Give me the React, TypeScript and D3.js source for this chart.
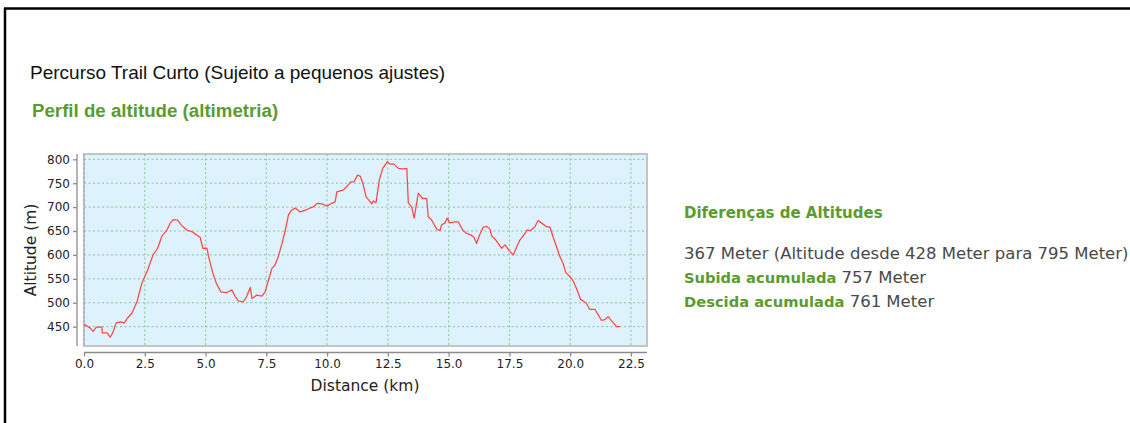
import React, { useEffect, useRef } from 'react';
import * as d3 from 'd3';

// elevation profile
const distanceKm = [
  0.0, 0.26, 0.37, 0.51, 0.74, 0.75, 0.95, 1.08, 1.18, 1.32, 1.49, 1.66, 1.77, 1.97, 2.18, 2.38,
  2.59, 2.84, 3.03, 3.21, 3.41, 3.55, 3.68, 3.85, 4.03, 4.23, 4.44, 4.62, 4.78, 4.89, 5.06, 5.12,
  5.19, 5.3, 5.44, 5.63, 5.81, 5.94, 6.08, 6.22, 6.35, 6.54, 6.67, 6.84, 6.91, 7.11, 7.32, 7.45,
  7.59, 7.73, 7.86, 8.0, 8.14, 8.27, 8.41, 8.55, 8.69, 8.89, 9.17, 9.44, 9.6, 9.78, 9.99, 10.19,
  10.33, 10.4, 10.67, 10.83, 10.97, 11.11, 11.25, 11.36, 11.47, 11.6, 11.74, 11.84, 11.9, 12.01,
  12.15, 12.29, 12.48, 12.59, 12.75, 12.93, 13.14, 13.28, 13.34, 13.48, 13.58, 13.66, 13.75,
  13.93, 14.1, 14.16, 14.3, 14.51, 14.64, 14.71, 14.85, 14.94, 15.05, 15.26, 15.4, 15.58, 15.74,
  15.91, 16.04, 16.15, 16.26, 16.42, 16.56, 16.7, 16.77, 16.91, 17.04, 17.18, 17.32, 17.49, 17.66,
  17.8, 17.93, 18.1, 18.23, 18.37, 18.55, 18.68, 18.87, 19.03, 19.17, 19.3, 19.44, 19.58, 19.71,
  19.82, 19.96, 20.1, 20.26, 20.43, 20.65, 20.81, 21.02, 21.16, 21.29, 21.43, 21.56, 21.74, 21.91,
  22.05,
];
const altitudeM = [
  455, 447, 440, 449, 449, 437, 437, 428, 437, 458, 460, 458, 467, 478, 502, 541,
  565, 600, 614, 640, 652, 667, 674, 673, 661, 652, 649, 642, 637, 614, 614, 598,
  584, 562, 541, 523, 521, 523, 527, 513, 504, 502, 511, 532, 509, 516, 514, 523,
  548, 572, 579, 598, 623, 649, 684, 694, 698, 690, 695, 701, 708, 707, 702, 708,
  711, 732, 736, 744, 753, 753, 767, 765, 750, 722, 713, 707, 713, 709,
  757, 781, 795, 790, 790, 781, 780, 781, 709, 700, 677, 701, 729,
  718, 718, 680, 673, 654, 651, 663, 667, 677, 667, 669, 669, 652, 645,
  642, 637, 624, 640, 658, 660, 654, 640, 633, 624, 614, 621, 609, 600,
  617, 631, 642, 652, 651, 659, 672, 665, 659, 658, 637, 617, 596, 582,
  563, 556, 548, 530, 507, 500, 486, 486, 474, 463, 465, 471, 460, 450,
  450,
];
const xTicks = [0, 2.5, 5, 7.5, 10, 12.5, 15, 17.5, 20, 22.5];
const yTicks = [450, 500, 550, 600, 650, 700, 750, 800];

const GREEN = '#5b9b2f';
const TEXT_GRAY = '#484848';
const FONT = "'DejaVu Sans', Verdana, sans-serif";
const HEAD_FONT = "'Liberation Sans', Arial, sans-serif";

const App: React.FC = () => {
  const svgRef = useRef<SVGSVGElement>(null);

  useEffect(() => {
    if (!svgRef.current) return;
    const svg = d3.select(svgRef.current);
    svg.selectAll('*').remove();

    const plot = { left: 84, right: 647, top: 154, bottom: 346 };

    const x = d3.scaleLinear().domain([0, 23.16]).range([plot.left, plot.right]);
    const y = d3.scaleLinear().domain([409.6, 811.1]).range([plot.bottom, plot.top]);

    // page frame
    svg.append('line').attr('x1', 4).attr('x2', 1130).attr('y1', 8.5).attr('y2', 8.5)
      .attr('stroke', '#000').attr('stroke-width', 2.5);
    svg.append('line').attr('x1', 5).attr('x2', 5).attr('y1', 8).attr('y2', 423)
      .attr('stroke', '#000').attr('stroke-width', 2.5);

    // headings
    svg.append('text').attr('x', 30).attr('y', 79).text('Percurso Trail Curto (Sujeito a pequenos ajustes)')
      .style('font-family', HEAD_FONT).style('font-size', '19px').attr('fill', '#111');
    svg.append('text').attr('x', 32).attr('y', 117).text('Perfil de altitude (altimetria)')
      .style('font-family', HEAD_FONT).style('font-size', '18.7px').style('font-weight', 'bold')
      .attr('fill', GREEN);

    // plot area
    svg.append('rect')
      .attr('x', plot.left).attr('y', plot.top)
      .attr('width', plot.right - plot.left).attr('height', plot.bottom - plot.top)
      .attr('fill', '#ddf2fc').attr('stroke', '#c4c4c4').attr('stroke-width', 2);

    const grid = svg.append('g');
    grid.selectAll('line.gy').data(yTicks).join('line').attr('class', 'gy')
      .attr('x1', plot.left).attr('x2', plot.right)
      .attr('y1', (d) => y(d)).attr('y2', (d) => y(d))
      .attr('stroke', '#86c592').attr('stroke-dasharray', '2,2.5');
    grid.selectAll('line.gx').data(xTicks).join('line').attr('class', 'gx')
      .attr('x1', (d) => x(d)).attr('x2', (d) => x(d))
      .attr('y1', plot.top).attr('y2', plot.bottom)
      .attr('stroke', (d) => (d === 0 ? '#8a9ccc' : '#86c592'))
      .attr('stroke-dasharray', '2,2.5');

    // profile
    const pts = distanceKm.map((d, i) => [d, altitudeM[i]] as [number, number]);
    const line = d3.line<[number, number]>().x((d) => x(d[0])).y((d) => y(d[1]));
    svg.append('path').datum(pts).attr('d', line)
      .attr('fill', 'none').attr('stroke', '#ff4a4a').attr('stroke-width', 1.3)
      .attr('stroke-linejoin', 'round');

    // y axis (offset spine)
    const yAxis = svg.append('g').attr('transform', 'translate(77,0)')
      .call(d3.axisLeft(y).tickValues(yTicks).tickSize(4).tickPadding(3).tickFormat(d3.format('d')));
    yAxis.select('.domain').attr('d', `M0,${plot.top}V${plot.bottom}`);

    // x axis (offset spine)
    const xAxis = svg.append('g').attr('transform', 'translate(0,352.5)')
      .call(d3.axisBottom(x).tickValues(xTicks).tickSize(4).tickPadding(3).tickFormat(d3.format('.1f')));
    xAxis.select('.domain').attr('d', `M${plot.left},0H${plot.right}`);

    svg.selectAll('.domain, .tick line').attr('stroke', '#8c8c8c').attr('stroke-width', 1.3);
    svg.selectAll('.tick text').style('font-family', FONT).style('font-size', '12px').attr('fill', '#222');

    svg.append('text').attr('transform', 'translate(36,250) rotate(-90)')
      .attr('text-anchor', 'middle').text('Altitude (m)')
      .style('font-family', FONT).style('font-size', '15.5px').attr('fill', '#222');
    svg.append('text').attr('x', 365).attr('y', 391)
      .attr('text-anchor', 'middle').text('Distance (km)')
      .style('font-family', FONT).style('font-size', '15.5px').attr('fill', '#222');

    // summary block
    const info = svg.append('g').style('font-family', FONT).style('font-size', '16.5px');
    info.append('text').attr('x', 684).attr('y', 218).text('Diferenças de Altitudes')
      .style('font-weight', 'bold').style('font-size', '15px').attr('fill', GREEN);
    info.append('text').attr('x', 684).attr('y', 259)
      .text('367 Meter (Altitude desde 428 Meter para 795 Meter)').attr('fill', TEXT_GRAY);
    const up = info.append('text').attr('x', 684).attr('y', 283);
    up.append('tspan').text('Subida acumulada').style('font-weight', 'bold').style('font-size', '14.7px').attr('fill', GREEN);
    up.append('tspan').text(' 757 Meter').attr('fill', TEXT_GRAY);
    const down = info.append('text').attr('x', 684).attr('y', 307);
    down.append('tspan').text('Descida acumulada').style('font-weight', 'bold').style('font-size', '14.7px').attr('fill', GREEN);
    down.append('tspan').text(' 761 Meter').attr('fill', TEXT_GRAY);
  }, []);

  return (
    <svg
      ref={svgRef}
      width={1130}
      height={423}
      style={{ position: 'absolute', left: 0, top: 0, background: '#fff' }}
    />
  );
};

export default App;
